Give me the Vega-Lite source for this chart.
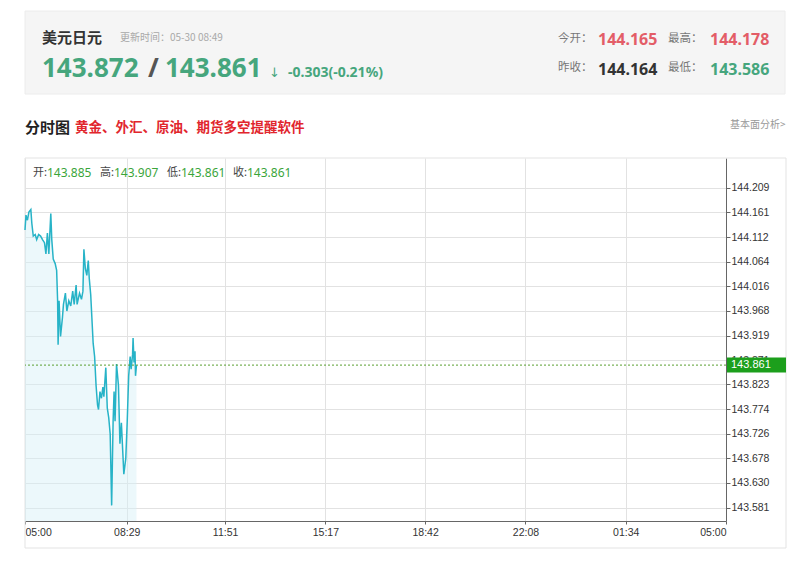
{
  "$schema": "https://vega.github.io/schema/vega-lite/v6.json",
  "width": 701,
  "height": 363,
  "autosize": "none",
  "padding": {"left": 25, "top": 158, "right": 74, "bottom": 41},
  "background": "white",
  "config": {"view": {"stroke": null}, "font": "Liberation Sans"},
  "datasets": {
    "prices": [
      {"t": 0, "p": 144.126}, {"t": 2, "p": 144.155}, {"t": 5, "p": 144.145}, {"t": 8, "p": 144.161},
      {"t": 12, "p": 144.166}, {"t": 14, "p": 144.139}, {"t": 17, "p": 144.114}, {"t": 21, "p": 144.117},
      {"t": 24, "p": 144.107}, {"t": 28, "p": 144.117}, {"t": 32, "p": 144.114}, {"t": 36, "p": 144.107},
      {"t": 40, "p": 144.101}, {"t": 43, "p": 144.079}, {"t": 46, "p": 144.120}, {"t": 49, "p": 144.079},
      {"t": 53, "p": 144.158}, {"t": 55, "p": 144.107}, {"t": 58, "p": 144.069}, {"t": 62, "p": 144.060},
      {"t": 65, "p": 144.047}, {"t": 67, "p": 143.987}, {"t": 68, "p": 143.901}, {"t": 70, "p": 143.987},
      {"t": 73, "p": 143.917}, {"t": 77, "p": 143.955}, {"t": 79, "p": 143.980}, {"t": 83, "p": 144.002},
      {"t": 86, "p": 143.967}, {"t": 90, "p": 143.987}, {"t": 94, "p": 143.977}, {"t": 98, "p": 144.006},
      {"t": 101, "p": 143.980}, {"t": 105, "p": 144.018}, {"t": 107, "p": 143.980}, {"t": 112, "p": 144.002},
      {"t": 116, "p": 143.990}, {"t": 119, "p": 144.006}, {"t": 121, "p": 144.088}, {"t": 124, "p": 144.050},
      {"t": 127, "p": 144.037}, {"t": 130, "p": 144.066}, {"t": 132, "p": 144.031}, {"t": 135, "p": 143.999},
      {"t": 138, "p": 143.942}, {"t": 140, "p": 143.904}, {"t": 143, "p": 143.878}, {"t": 146, "p": 143.821},
      {"t": 149, "p": 143.783}, {"t": 151, "p": 143.774}, {"t": 154, "p": 143.809}, {"t": 157, "p": 143.796},
      {"t": 160, "p": 143.818}, {"t": 162, "p": 143.799}, {"t": 166, "p": 143.856}, {"t": 169, "p": 143.777},
      {"t": 172, "p": 143.758}, {"t": 175, "p": 143.726}, {"t": 178, "p": 143.586}, {"t": 181, "p": 143.751},
      {"t": 183, "p": 143.809}, {"t": 185, "p": 143.751}, {"t": 188, "p": 143.863}, {"t": 192, "p": 143.821},
      {"t": 195, "p": 143.707}, {"t": 198, "p": 143.748}, {"t": 201, "p": 143.688}, {"t": 203, "p": 143.647},
      {"t": 207, "p": 143.678}, {"t": 210, "p": 143.751}, {"t": 213, "p": 143.840}, {"t": 216, "p": 143.878},
      {"t": 218, "p": 143.853}, {"t": 221, "p": 143.882}, {"t": 222, "p": 143.914}, {"t": 224, "p": 143.866},
      {"t": 226, "p": 143.888}, {"t": 227, "p": 143.840}, {"t": 229, "p": 143.861}
    ],
    "one": [{}]
  },
  "layer": [
    {"data": {"name": "one"}, "mark": {"type": "rect", "x": 0, "x2": 761, "y": 0, "y2": 390, "fill": "transparent", "stroke": "#e3e3e3", "strokeWidth": 1}, "encoding": {}},
    {"data": {"name": "one"}, "mark": {"type": "rect", "x": 0, "x2": 760, "y": -147, "y2": -64, "fill": "#f5f5f5", "stroke": "#ececec"}, "encoding": {}},
    {
      "data": {"name": "prices"},
      "encoding": {
        "x": {
          "field": "t", "type": "quantitative",
          "scale": {"domain": [0, 1440], "nice": false, "zero": false},
          "axis": {
            "title": null, "values": [0, 209, 411, 617, 822, 1028, 1234, 1440], "tickCount": 20,
            "labelExpr": "timeFormat(datetime(2024, 4, 30, 5, datum.value), '%H:%M')",
            "labelFlush": true, "labelOverlap": false, "labelFontSize": 10.5, "labelColor": "#333", "labelPadding": 3,
            "domainColor": "#666", "tickColor": "#666", "tickSize": 3,
            "grid": true, "gridColor": "#e2e2e2"
          }
        },
        "y": {
          "field": "p", "type": "quantitative",
          "scale": {"domain": [143.5652, 144.2572], "nice": false, "zero": false},
          "axis": {
            "title": null, "orient": "right", "tickCount": 30,
            "values": [144.209, 144.161, 144.112, 144.064, 144.016, 143.968, 143.919, 143.871, 143.823, 143.774, 143.726, 143.678, 143.630, 143.581],
            "format": ".3f", "labelOverlap": false, "labelFontSize": 10.5, "labelColor": "#333", "labelPadding": 1,
            "domainColor": "#666", "tickColor": "#666", "tickSize": 4,
            "grid": true, "gridColor": "#e2e2e2"
          }
        }
      },
      "layer": [
        {"mark": {"type": "area", "color": "#d4f0f7", "opacity": 0.45, "clip": true}},
        {"mark": {"type": "line", "color": "#27b3c7", "strokeWidth": 1.5}}
      ]
    },
    {"data": {"name": "one"}, "mark": {"type": "rule", "color": "#5a9e2f", "strokeDash": [2, 2], "strokeWidth": 1}, "encoding": {"y": {"datum": 143.861, "type": "quantitative", "title": null}}},
    {"data": {"name": "one"}, "mark": {"type": "bar", "orient": "horizontal", "height": 15, "color": "#1c9f1c"}, "encoding": {"x": {"value": 702}, "x2": {"value": 761}, "y": {"datum": 143.861, "type": "quantitative", "title": null}}},
    {"data": {"name": "one"}, "mark": {"type": "text", "align": "left", "baseline": "middle", "color": "white", "fontSize": 11, "font": "Liberation Sans"}, "encoding": {"x": {"value": 706}, "y": {"datum": 143.861, "type": "quantitative", "title": null}, "text": {"value": "143.861"}}},
    {"data": {"name": "one"}, "mark": {"type": "rule", "x": 701, "x2": 761, "y": 363, "y2": 363, "stroke": "#666"}, "encoding": {}},
    {"data": {"name": "one"}, "mark": {"type": "rule", "x": 701, "x2": 701, "y": 363, "y2": 389, "stroke": "#666"}, "encoding": {}},
    {"data": {"name": "one"}, "mark": {"type": "rule", "x": 0, "x2": 760, "y": -13, "y2": -13, "stroke": "#e0e0e0"}, "encoding": {}},

    {"data": {"name": "one"}, "mark": {"type": "text", "text": "美元日元", "x": 17, "y": -120, "align": "left", "baseline": "middle", "font": "Noto Sans CJK SC", "fontSize": 15, "fontWeight": "bold", "color": "#333"}, "encoding": {}},
    {"data": {"name": "one"}, "mark": {"type": "text", "text": "更新时间：05-30 08:49", "x": 95, "y": -120, "align": "left", "baseline": "middle", "font": "Noto Sans CJK SC", "fontSize": 10, "color": "#a8a8a8"}, "encoding": {}},
    {"data": {"name": "one"}, "mark": {"type": "text", "text": "143.872", "x": 17, "y": -81, "align": "left", "baseline": "alphabetic", "font": "Noto Sans", "fontSize": 26, "fontWeight": "bold", "color": "#46a67d"}, "encoding": {}},
    {"data": {"name": "one"}, "mark": {"type": "text", "text": "/", "x": 123, "y": -81, "align": "left", "baseline": "alphabetic", "font": "Noto Sans", "fontSize": 26, "fontWeight": "bold", "color": "#555"}, "encoding": {}},
    {"data": {"name": "one"}, "mark": {"type": "text", "text": "143.861", "x": 140, "y": -81, "align": "left", "baseline": "alphabetic", "font": "Noto Sans", "fontSize": 26, "fontWeight": "bold", "color": "#46a67d"}, "encoding": {}},
    {"data": {"name": "one"}, "mark": {"type": "text", "text": "↓", "x": 244, "y": -81, "align": "left", "baseline": "alphabetic", "font": "DejaVu Sans", "fontSize": 13, "color": "#46a67d"}, "encoding": {}},
    {"data": {"name": "one"}, "mark": {"type": "text", "text": "-0.303(-0.21%)", "x": 263, "y": -81, "align": "left", "baseline": "alphabetic", "font": "Noto Sans", "fontSize": 14, "fontWeight": "bold", "color": "#46a67d"}, "encoding": {}},
    {"data": {"name": "one"}, "mark": {"type": "text", "text": "今开：", "x": 533, "y": -119, "align": "left", "baseline": "middle", "font": "Noto Sans CJK SC", "fontSize": 11.5, "color": "#777"}, "encoding": {}},
    {"data": {"name": "one"}, "mark": {"type": "text", "text": "144.165", "x": 573, "y": -113, "align": "left", "baseline": "alphabetic", "font": "Noto Sans", "fontSize": 16, "fontWeight": "bold", "color": "#e35d67"}, "encoding": {}},
    {"data": {"name": "one"}, "mark": {"type": "text", "text": "最高：", "x": 643, "y": -119, "align": "left", "baseline": "middle", "font": "Noto Sans CJK SC", "fontSize": 11.5, "color": "#777"}, "encoding": {}},
    {"data": {"name": "one"}, "mark": {"type": "text", "text": "144.178", "x": 685, "y": -113, "align": "left", "baseline": "alphabetic", "font": "Noto Sans", "fontSize": 16, "fontWeight": "bold", "color": "#e35d67"}, "encoding": {}},
    {"data": {"name": "one"}, "mark": {"type": "text", "text": "昨收：", "x": 533, "y": -90, "align": "left", "baseline": "middle", "font": "Noto Sans CJK SC", "fontSize": 11.5, "color": "#777"}, "encoding": {}},
    {"data": {"name": "one"}, "mark": {"type": "text", "text": "144.164", "x": 573, "y": -83, "align": "left", "baseline": "alphabetic", "font": "Noto Sans", "fontSize": 16, "fontWeight": "bold", "color": "#333"}, "encoding": {}},
    {"data": {"name": "one"}, "mark": {"type": "text", "text": "最低：", "x": 643, "y": -90, "align": "left", "baseline": "middle", "font": "Noto Sans CJK SC", "fontSize": 11.5, "color": "#777"}, "encoding": {}},
    {"data": {"name": "one"}, "mark": {"type": "text", "text": "143.586", "x": 685, "y": -83, "align": "left", "baseline": "alphabetic", "font": "Noto Sans", "fontSize": 16, "fontWeight": "bold", "color": "#46a67d"}, "encoding": {}},

    {"data": {"name": "one"}, "mark": {"type": "text", "text": "分时图", "x": 0, "y": -30, "align": "left", "baseline": "middle", "font": "Noto Sans CJK SC", "fontSize": 15, "fontWeight": "bold", "color": "#222"}, "encoding": {}},
    {"data": {"name": "one"}, "mark": {"type": "text", "text": "黄金、外汇、原油、期货多空提醒软件", "x": 50, "y": -30, "align": "left", "baseline": "middle", "font": "Noto Sans CJK SC", "fontSize": 13.5, "fontWeight": "bold", "color": "#e1262d"}, "encoding": {}},
    {"data": {"name": "one"}, "mark": {"type": "text", "text": "基本面分析>", "x": 705, "y": -33, "align": "left", "baseline": "middle", "font": "Noto Sans CJK SC", "fontSize": 10, "color": "#999"}, "encoding": {}},

    {"data": {"name": "one"}, "mark": {"type": "text", "text": "开:", "x": 8, "y": 15, "align": "left", "baseline": "middle", "font": "Noto Sans CJK SC", "fontSize": 11, "color": "#444"}, "encoding": {}},
    {"data": {"name": "one"}, "mark": {"type": "text", "text": "143.885", "x": 22, "y": 15, "align": "left", "baseline": "middle", "font": "Noto Sans", "fontSize": 12, "color": "#3aa53a"}, "encoding": {}},
    {"data": {"name": "one"}, "mark": {"type": "text", "text": "高:", "x": 75, "y": 15, "align": "left", "baseline": "middle", "font": "Noto Sans CJK SC", "fontSize": 11, "color": "#444"}, "encoding": {}},
    {"data": {"name": "one"}, "mark": {"type": "text", "text": "143.907", "x": 89, "y": 15, "align": "left", "baseline": "middle", "font": "Noto Sans", "fontSize": 12, "color": "#3aa53a"}, "encoding": {}},
    {"data": {"name": "one"}, "mark": {"type": "text", "text": "低:", "x": 142, "y": 15, "align": "left", "baseline": "middle", "font": "Noto Sans CJK SC", "fontSize": 11, "color": "#444"}, "encoding": {}},
    {"data": {"name": "one"}, "mark": {"type": "text", "text": "143.861", "x": 156, "y": 15, "align": "left", "baseline": "middle", "font": "Noto Sans", "fontSize": 12, "color": "#3aa53a"}, "encoding": {}},
    {"data": {"name": "one"}, "mark": {"type": "text", "text": "收:", "x": 208, "y": 15, "align": "left", "baseline": "middle", "font": "Noto Sans CJK SC", "fontSize": 11, "color": "#444"}, "encoding": {}},
    {"data": {"name": "one"}, "mark": {"type": "text", "text": "143.861", "x": 222, "y": 15, "align": "left", "baseline": "middle", "font": "Noto Sans", "fontSize": 12, "color": "#3aa53a"}, "encoding": {}}
  ]
}
